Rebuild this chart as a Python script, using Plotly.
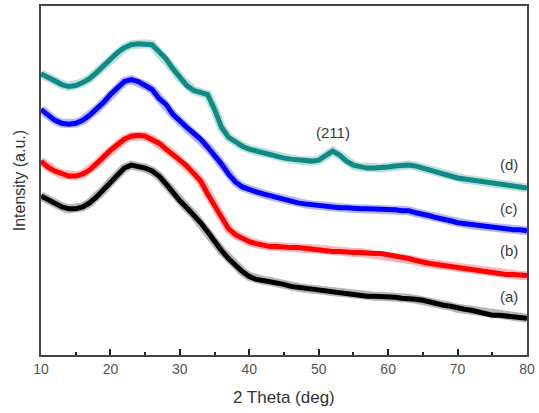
import plotly.graph_objects as go

# 2 Theta (deg)
two_theta = list(range(10, 81))

# Intensity (a.u.) (arbitrary units, larger = higher)
_px_a = [195, 199, 203, 206, 208, 208, 206, 202, 196, 189, 181, 174, 167, 164, 165, 167, 170, 175, 183, 192,
         200, 207, 214, 222, 231, 241, 250, 258, 265, 271, 276, 279, 280, 281, 283, 284, 286, 287, 288, 289,
         290, 291, 292, 293, 294, 295, 295, 296, 296, 296, 296, 297, 298, 298, 299, 300, 302, 303, 305, 306,
         308, 309, 310, 312, 313, 315, 315, 316, 317, 318, 318]
_px_b = [160, 166, 170, 173, 175, 175, 173, 169, 163, 156, 149, 143, 138, 135, 134, 135, 138, 142, 148, 153,
         159, 165, 172, 180, 193, 205, 218, 228, 234, 238, 241, 243, 245, 246, 246, 247, 247, 247, 248, 248,
         249, 250, 251, 251, 252, 252, 252, 253, 253, 253, 254, 255, 256, 258, 260, 262, 263, 264, 265, 266,
         268, 269, 270, 271, 272, 273, 273, 274, 274, 275, 275]
_px_c = [108, 114, 119, 122, 123, 122, 119, 114, 108, 101, 93, 86, 80, 78, 80, 84, 88, 97, 103, 113,
         120, 126, 132, 138, 146, 154, 163, 173, 181, 186, 189, 191, 193, 195, 197, 199, 200, 202, 203, 204,
         205, 206, 207, 207, 207, 208, 208, 208, 208, 208, 209, 209, 210, 210, 212, 213, 215, 217, 218, 220,
         222, 223, 224, 225, 226, 227, 228, 228, 229, 229, 230]
_px_d = [72, 76, 80, 83, 85, 84, 81, 77, 71, 64, 57, 51, 46, 43, 42, 42, 43, 50, 57, 67,
         76, 84, 89, 91, 93, 108, 126, 136, 141, 145, 148, 150, 152, 154, 156, 157, 158, 159, 160, 160,
         159, 155, 150, 154, 160, 164, 166, 167, 167, 167, 166, 165, 164, 164, 165, 167, 169, 172, 174, 176,
         177, 178, 179, 180, 181, 182, 183, 184, 185, 186, 187]
intensity_a = [355 - v for v in _px_a]
intensity_b = [355 - v for v in _px_b]
intensity_c = [355 - v for v in _px_c]
intensity_d = [355 - v for v in _px_d]

series = [
    ("(a)", intensity_a, "#000000"),
    ("(b)", intensity_b, "#ff0000"),
    ("(c)", intensity_c, "#0000ff"),
    ("(d)", intensity_d, "#108a84"),
]
label_pos = {"(a)": (77.4, 59), "(b)": (77.4, 105), "(c)": (77.4, 147), "(d)": (77.4, 192)}

fig = go.Figure()
for name, vals, col in series:
    fig.add_trace(go.Scatter(x=two_theta, y=vals, mode="lines", line=dict(color=col, width=9),
                             opacity=0.28, hoverinfo="skip", showlegend=False))
    fig.add_trace(go.Scatter(x=two_theta, y=vals, mode="lines", line=dict(color=col, width=5),
                             name=name, showlegend=False))

for name, (lx, ly) in label_pos.items():
    fig.add_annotation(x=lx, y=ly, text=name, showarrow=False,
                       font=dict(family="Liberation Sans", size=15, color="#3a3a3a"))
fig.add_annotation(x=52, y=224, text="(211)", showarrow=False,
                   font=dict(family="Liberation Sans", size=15, color="#3a3a3a"))

fig.add_annotation(xref="paper", yref="paper", x=0.5, y=-0.09, yanchor="top",
                   text="2 Theta (deg)", showarrow=False,
                   font=dict(family="Liberation Sans", size=17, color="#333333"))
fig.add_annotation(xref="paper", yref="paper", x=-0.022, xanchor="right", y=0.5,
                   text="Intensity (a.u.)", textangle=-90, showarrow=False,
                   font=dict(family="Liberation Sans", size=16, color="#333333"))

fig.update_layout(
    width=539, height=413,
    margin=dict(l=41, r=12, t=4, b=58),
    plot_bgcolor="white", paper_bgcolor="white",
)
fig.update_xaxes(range=[10, 80], dtick=10, tick0=10, showgrid=False, zeroline=False,
                 showline=True, linecolor="#444444", linewidth=2, mirror=True,
                 ticks="inside", ticklen=6, tickwidth=2, tickcolor="#222222",
                 minor=dict(ticks="inside", ticklen=3, tickwidth=2, dtick=5, tick0=10, tickcolor="#222222", showgrid=False),
                 tickfont=dict(family="Liberation Sans", size=14, color="#555555"))
fig.update_yaxes(range=[0, 351], showgrid=False, zeroline=False, showticklabels=False,
                 showline=True, linecolor="#444444", linewidth=2, mirror=True, ticks="")

fig.write_html("out.html", config={"displayModeBar": False},
               post_script="document.body.style.margin='0';document.body.style.overflow='hidden';")
